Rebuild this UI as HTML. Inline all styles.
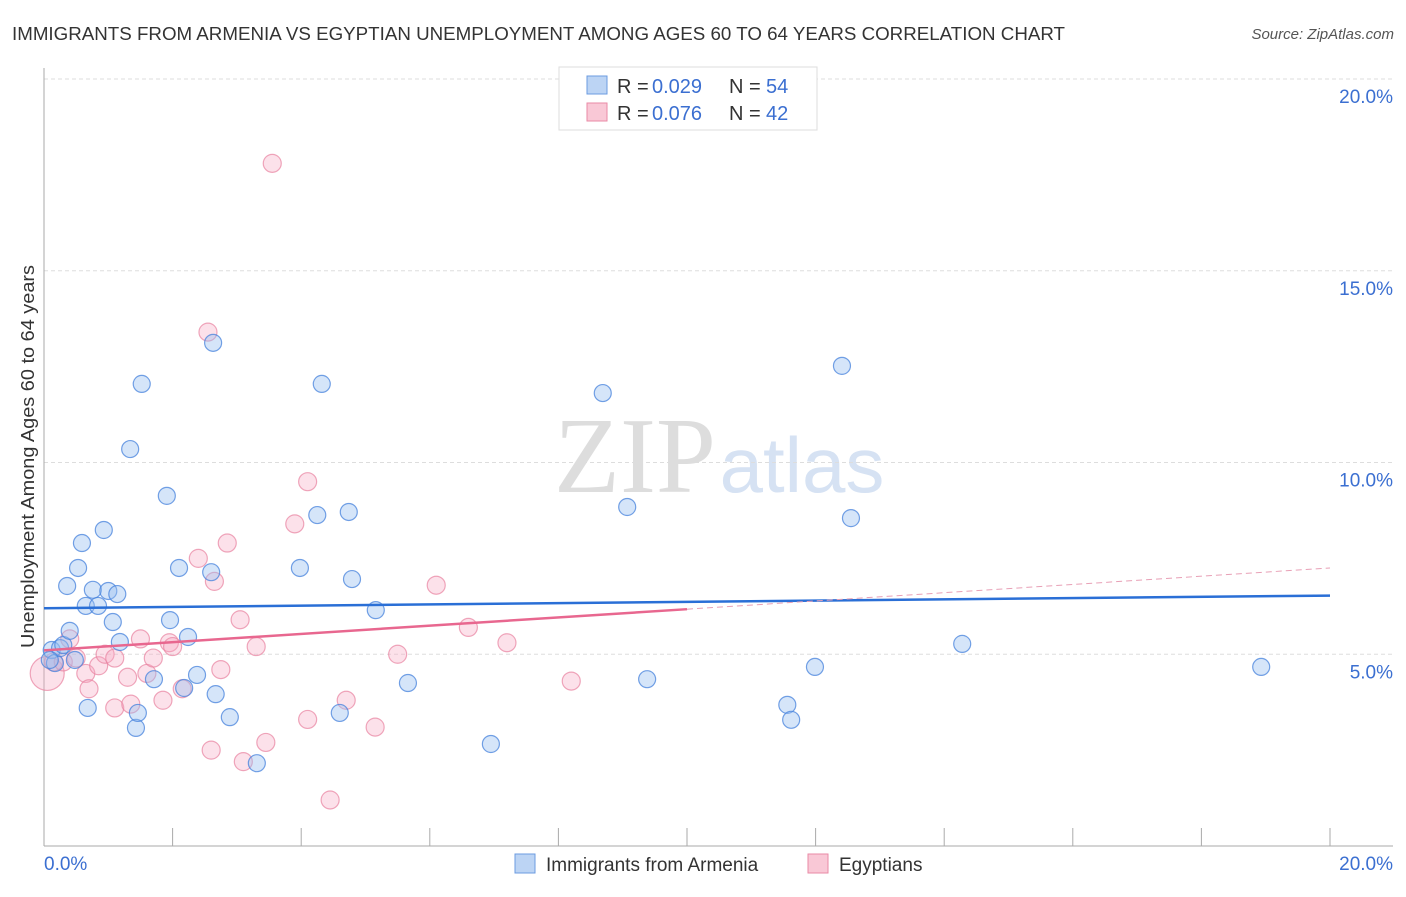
<!DOCTYPE html>
<html><head><meta charset="utf-8"><style>
body{margin:0;background:#fff;font-family:"Liberation Sans",sans-serif;}
</style></head><body>
<svg width="1406" height="892" xmlns="http://www.w3.org/2000/svg" id="chart">
<text x="12" y="40" font-size="18" fill="#333" textLength="1053" lengthAdjust="spacingAndGlyphs">IMMIGRANTS FROM ARMENIA VS EGYPTIAN UNEMPLOYMENT AMONG AGES 60 TO 64 YEARS CORRELATION CHART</text>
<text x="1394" y="39" font-size="15" fill="#555" font-style="italic" text-anchor="end">Source: ZipAtlas.com</text>
<text x="34" y="648" font-size="18" fill="#333" textLength="383" lengthAdjust="spacingAndGlyphs" transform="rotate(-90 34 648)">Unemployment Among Ages 60 to 64 years</text>
<text x="635" y="492" font-size="108" fill="#ddd" font-family="Liberation Serif,serif" text-anchor="middle">ZIP</text>
<text x="802" y="492" font-size="78" fill="#d6e2f3" text-anchor="middle">atlas</text>
<g id="grid"></g><g id="pts"></g><g id="trend"></g>
<g>
<rect x="559" y="67" width="258" height="63" fill="#fff" stroke="#ddd"/>
<rect x="587" y="76" width="20" height="18" fill="#bcd4f4" stroke="#6b9be0"/>
<rect x="587" y="103" width="20" height="18" fill="#f9c8d6" stroke="#e98aa6"/>
<text y="93" font-size="20" fill="#333"><tspan x="617">R =</tspan><tspan x="652" fill="#3b6fd1">0.029</tspan><tspan x="729">N =</tspan><tspan x="766" fill="#3b6fd1">54</tspan></text>
<text y="120" font-size="20" fill="#333"><tspan x="617">R =</tspan><tspan x="652" fill="#3b6fd1">0.076</tspan><tspan x="729">N =</tspan><tspan x="766" fill="#3b6fd1">42</tspan></text>
</g>
<g>
<rect x="515" y="854" width="20" height="19" fill="#bcd4f4" stroke="#6b9be0"/>
<text x="546" y="871" font-size="19" fill="#333">Immigrants from Armenia</text>
<rect x="808" y="854" width="20" height="19" fill="#f9c8d6" stroke="#e98aa6"/>
<text x="839" y="871" font-size="19" fill="#333">Egyptians</text>
</g>
</svg>
<script>
const yTicks=[5,10,15,20];
const blueX=[0.12,0.17,0.25,0.30,0.40,0.36,0.48,0.53,0.59,0.65,0.68,0.76,0.84,0.93,1.0,1.07,1.14,1.18,1.34,1.43,1.46,1.52,1.71,1.91,1.96,2.10,2.18,2.24,2.38,2.60,2.63,2.67,2.89,3.31,3.98,4.25,4.32,4.60,4.74,4.79,5.16,5.66,6.95,8.69,9.07,9.38,11.56,11.62,11.99,12.41,12.55,14.28,18.93,0.09];
const blueY=[5.11,4.77,5.16,5.24,5.61,6.78,4.85,7.25,7.90,6.26,3.60,6.68,6.26,8.24,6.65,5.84,6.57,5.32,10.35,3.08,3.47,12.05,4.35,9.13,5.89,7.25,4.12,5.45,4.46,7.14,13.12,3.96,3.36,2.16,7.25,8.63,12.05,3.47,8.71,6.96,6.15,4.25,2.66,11.81,8.84,4.35,3.68,3.29,4.67,12.52,8.55,5.27,4.67,4.85];
const pinkX=[0.05,0.15,0.3,0.4,0.5,0.65,0.7,0.85,0.95,1.1,1.1,1.3,1.35,1.5,1.6,1.7,1.85,1.95,2.0,2.15,2.4,2.55,2.65,2.75,2.85,2.6,3.05,3.1,3.3,3.45,3.55,3.9,4.1,4.1,4.45,4.7,5.15,5.5,6.1,6.6,7.2,8.2];
const pinkY=[4.5,4.8,4.8,5.4,4.9,4.5,4.1,4.7,5.0,3.6,4.9,4.4,3.7,5.4,4.5,4.9,3.8,5.3,5.2,4.1,7.5,13.4,6.9,4.6,7.9,2.5,5.9,2.2,5.2,2.7,17.8,8.4,9.5,3.3,1.2,3.8,3.1,5.0,6.8,5.7,5.3,4.3];
const blueTrend=[6.2,6.53];
const pinkTrend=[5.1,7.25];
const X=v=>44+v*64.3, Y=v=>846-v*38.35;
const NS="http://www.w3.org/2000/svg";
function mk(tag,attrs,parent){const e=document.createElementNS(NS,tag);for(const k in attrs)e.setAttribute(k,attrs[k]);parent.appendChild(e);return e;}
const grid=document.getElementById('grid');
yTicks.forEach(t=>{
 const l=mk('line',{x1:44,x2:1393,y1:Y(t),y2:Y(t),stroke:'#ddd','stroke-dasharray':'4,3'},grid);
 
 
 const tx=mk('text',{x:1393,y:Y(t)+24,'font-size':19,fill:'#3b6fd1','text-anchor':'end'},grid);
 tx.textContent=t.toFixed(1)+'%';
 
 
});
mk('line',{x1:44,x2:44,y1:68,y2:846,stroke:'#aaa'},grid);
mk('line',{x1:44,x2:1393,y1:846,y2:846,stroke:'#aaa'},grid);
for(let i=0;i<=10;i++){mk('line',{x1:X(i*2),x2:X(i*2),y1:828,y2:846,stroke:'#aaa'},grid);}
let t0=mk('text',{x:44,y:870,'font-size':19,fill:'#3b6fd1'},grid);t0.textContent='0.0%';


let t1=mk('text',{x:1393,y:870,'font-size':19,fill:'#3b6fd1','text-anchor':'end'},grid);t1.textContent='20.0%';


const pts=document.getElementById('pts');
pinkX.forEach((x,i)=>{const c=mk('circle',{cx:X(x),cy:Y(pinkY[i]),r:i==0?17:9,fill:'rgba(246,170,195,0.35)',stroke:'rgba(232,130,160,0.7)','stroke-width':1.2},pts);
 
 });
blueX.forEach((x,i)=>{const c=mk('circle',{cx:X(x),cy:Y(blueY[i]),r:8.5,fill:'rgba(150,190,240,0.4)',stroke:'rgba(70,130,220,0.75)','stroke-width':1.2},pts);
 
 });
const tr=document.getElementById('trend');
const bl=mk('line',{x1:X(0),x2:X(20),y1:Y(blueTrend[0]),y2:Y(blueTrend[1]),stroke:'#2a6fd6','stroke-width':2.5},tr);


const py=x=>pinkTrend[0]+(pinkTrend[1]-pinkTrend[0])*x/20;
const pl=mk('line',{x1:X(0),x2:X(10),y1:Y(py(0)),y2:Y(py(10)),stroke:'#e8678f','stroke-width':2.5},tr);


const pd=mk('line',{x1:X(10),x2:X(20),y1:Y(py(10)),y2:Y(py(20)),stroke:'#e8a0b6','stroke-width':1,'stroke-dasharray':'6,4'},tr);


</script>
</body></html>
